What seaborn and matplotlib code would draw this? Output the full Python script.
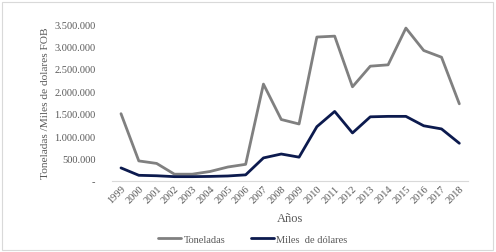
import matplotlib
matplotlib.use("Agg")
import matplotlib.pyplot as plt
import matplotlib.ticker as mticker
from matplotlib.patches import Rectangle
from matplotlib.lines import Line2D
import seaborn as sns
import pandas as pd

years = [str(y) for y in range(1999, 2019)]
toneladas = [1500000, 446000, 390000, 150000, 150000, 210000, 310000, 370000,
             2160000, 1370000, 1270000, 3210000, 3230000, 2100000, 2560000,
             2590000, 3410000, 2910000, 2760000, 1720000]
miles_dolares = [290000, 125000, 115000, 95000, 95000, 100000, 110000, 135000,
                 513000, 600000, 530000, 1210000, 1550000, 1070000, 1430000,
                 1440000, 1440000, 1230000, 1160000, 840000]
series_names = ["Toneladas", "Miles  de dólares"]
yticks = [0, 500000, 1000000, 1500000, 2000000, 2500000, 3000000, 3500000]

df = pd.DataFrame({
    "Año": years * 2,
    "valor": toneladas + miles_dolares,
    "serie": [series_names[0]] * len(years) + [series_names[1]] * len(years),
})

sns.set_style("white")
plt.rcParams["font.family"] = ["Liberation Serif", "DejaVu Serif"]

fig = plt.figure(figsize=(4.96, 2.53), dpi=100)
ax = fig.add_axes([0.226, 0.281, 0.718, 0.62])
sns.lineplot(data=df, x="Año", y="valor", hue="serie", sort=False,
             palette=["#808080", "#0c1a4e"], linewidth=2.0, ax=ax, legend=False)

ax.set_xlim(-0.5, len(years) - 0.5)
ax.set_ylim(0, 3500000)
ax.set_yticks(yticks)
ax.yaxis.set_major_formatter(mticker.FuncFormatter(
    lambda v, p: "-" if v == 0 else f"{int(v):,}".replace(",", ".")))
ax.tick_params(axis="y", labelsize=7.5, colors="#595959", length=0, pad=12)
ax.tick_params(axis="x", labelsize=7.5, colors="#595959", length=0, pad=2)
for lab in ax.get_xticklabels():
    lab.set_rotation(45)
    lab.set_ha("right")
    lab.set_rotation_mode("anchor")
for s in ["top", "right", "left"]:
    ax.spines[s].set_visible(False)
ax.spines["bottom"].set_color("#d9d9d9")
ax.spines["bottom"].set_linewidth(0.8)

ax.set_xlabel("Años", fontsize=9, color="#595959", labelpad=5)
ax.set_ylabel("Toneladas /Miles de dolares FOB", fontsize=8.2, color="#595959", labelpad=3)

handles = [Line2D([], [], color="#808080", lw=2.0), Line2D([], [], color="#0c1a4e", lw=2.0)]
fig.legend(handles, series_names, loc="center", bbox_to_anchor=(0.51, 0.05), ncol=2,
           frameon=False, fontsize=7.5, handlelength=2.2, handletextpad=0.2,
           columnspacing=2.5, labelcolor="#595959")

fig.patches.append(Rectangle((0.004, 0.008), 0.99, 0.98, transform=fig.transFigure,
                             fill=False, edgecolor="#d9d9d9", linewidth=0.8))
fig.savefig("out.png", dpi=100)
